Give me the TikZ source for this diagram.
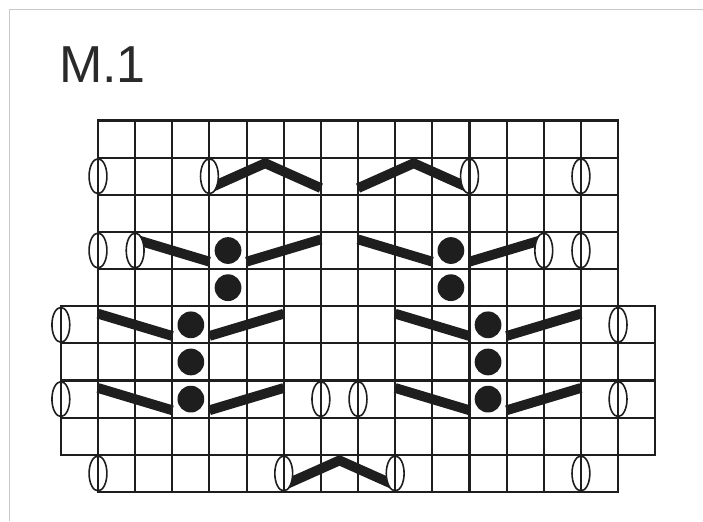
\documentclass[tikz,border=0pt]{standalone}
\usepackage{fontspec}
\setmainfont{Liberation Sans}
\usepackage{xcolor}
\usepackage{tikz}
\definecolor{gridline}{HTML}{1E1E1E}
\definecolor{titlegray}{HTML}{2A2A2A}
\definecolor{framegray}{HTML}{C8C8C8}
\tikzset{
  chartgrid/.style={draw=gridline, line width=2.1pt, line cap=rect},
  yarnover/.style={draw=gridline, line width=1.6pt, fill=white},
  decbar/.style={draw=gridline, line width=9.8pt, line cap=butt, line join=miter},
  bobble/.style={fill=gridline},
}

\begin{document}
\begin{tikzpicture}[x=37.15pt, y=37.15pt]
\useasboundingbox (-2.638,-0.781) rectangle (16.286,13.244);
\draw[framegray, line width=0.8pt] (-2.396,-0.781) -- (-2.396,13.0) -- (16.286,13.0);
\node[anchor=base west, inner sep=0pt, text=titlegray, font=\fontsize{52}{52}\selectfont] (title) at (-1.05,11.01) {M.1};
% chart grid: upper block, wide block, bottom row
\foreach \x in {0,...,14} \draw[chartgrid] (\x,5) -- (\x,10);
\foreach \y in {5,...,10} \draw[chartgrid] (0,\y) -- (14,\y);
\foreach \x in {-1,...,15} \draw[chartgrid] (\x,1) -- (\x,5);
\foreach \y in {1,...,5} \draw[chartgrid] (-1,\y) -- (15,\y);
\foreach \x in {0,...,14} \draw[chartgrid] (\x,0) -- (\x,1);
\foreach \y in {0,1} \draw[chartgrid] (0,\y) -- (14,\y);
% slanted decreases
\foreach \x in {0,6} {
  \draw[decbar] (\x+1,6.8) -- (\x+3,6.2);
  \draw[decbar] (\x+4,6.2) -- (\x+6,6.8);
}
\foreach \y in {2,4}
  \foreach \x in {0,8} {
    \draw[decbar] (\x,\y+0.8) -- (\x+2,\y+0.2);
    \draw[decbar] (\x+3,\y+0.2) -- (\x+5,\y+0.8);
  }
\foreach \x in {3,7}
  \draw[decbar] (\x,8.18) -- (\x+1.5,8.85) -- (\x+3,8.18);
\draw[decbar] (5,0.18) -- (6.5,0.85) -- (8,0.18);
% bobbles
\foreach \y in {5.5,6.5}
  \foreach \x in {3.5,9.5}
    \fill[bobble] (\x,\y) circle (0.36);
\foreach \y in {2.5,3.5,4.5}
  \foreach \x in {2.5,10.5}
    \fill[bobble] (\x,\y) circle (0.36);
% yarn overs
\foreach \x/\y in {0/8.5, 3/8.5, 10/8.5, 13/8.5,
                   0/6.5, 1/6.5, 12/6.5, 13/6.5,
                   -1/4.5, 14/4.5,
                   -1/2.5, 6/2.5, 7/2.5, 14/2.5,
                   0/0.5, 5/0.5, 8/0.5, 13/0.5} {
  \draw[yarnover] (\x,\y) ellipse (0.24 and 0.47);
  \draw[chartgrid, line cap=butt] (\x,\y-0.47) -- (\x,\y+0.47);
}
\end{tikzpicture}
\end{document}
